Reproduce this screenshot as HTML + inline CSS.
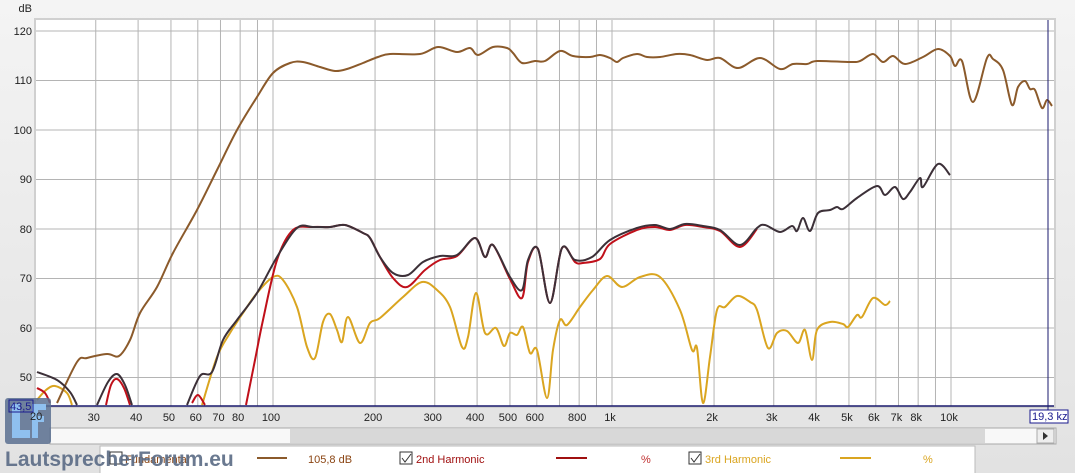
<!DOCTYPE html>
<html><head><meta charset="utf-8"><style>
body{margin:0;width:1075px;height:473px;overflow:hidden;background:#ececec;font-family:"Liberation Sans",sans-serif;}
</style></head><body>
<svg id="s" width="1075" height="473" xmlns="http://www.w3.org/2000/svg" style="position:absolute;left:0;top:0">
<defs><linearGradient id="bg" x1="0" y1="0" x2="0" y2="1"><stop offset="0" stop-color="#f4f4f4"/><stop offset="1" stop-color="#e2e2e2"/></linearGradient></defs>
<rect width="1075" height="473" fill="url(#bg)"/>
<rect x="34" y="18" width="1022" height="390" fill="#d0d0d0"/>
<rect x="36" y="20" width="1018" height="386" fill="#fff"/>
<g id="grid" stroke="#b4b4b4" stroke-width="1"></g>
<g font-size="11" fill="#222" text-anchor="end">
<text x="32" y="12">dB</text>
<text x="32" y="35">120</text><text x="32" y="84">110</text><text x="32" y="134">100</text>
<text x="32" y="183">90</text><text x="32" y="233">80</text><text x="32" y="282">70</text>
<text x="32" y="332">60</text><text x="32" y="381">50</text>
</g>
<g id="xl" font-size="11" fill="#222" text-anchor="middle"></g>
<g id="curves" fill="none" stroke-width="2" stroke-linejoin="round"></g>
<line x1="36" y1="406" x2="1054" y2="406" stroke="#1a1a6e" stroke-width="1.5"/>
<line x1="1048" y1="20" x2="1048" y2="420" stroke="#1a1a6e" stroke-width="1"/>
<rect x="1030" y="410" width="38" height="13" fill="#fff" stroke="#1a1a8e"/>
<text x="1032" y="420" font-size="11" fill="#1a1a8e">19,3 kz</text>
<!-- scrollbar -->
<rect x="50" y="428" width="1006" height="16" fill="#f8f8f8" stroke="#a8a8a8"/>
<rect x="290" y="429" width="695" height="14" fill="#d8d8d8"/>
<rect x="1037" y="429" width="17" height="14" fill="#eee" stroke="#aaa"/>
<path d="M1043 432 l5 4 l-5 4z" fill="#333"/>
<!-- legend -->
<rect x="100" y="446" width="875" height="30" fill="#fff" stroke="#bbb"/>
<rect x="110" y="452" width="12" height="12" fill="#fff" stroke="#333"/>
<text x="125" y="463" font-size="11" fill="#8b4513">Fundamental</text>
<line x1="257" y1="458" x2="287" y2="458" stroke="#8b5a2b" stroke-width="2"/>
<text x="308" y="463" font-size="11" fill="#8b4513">105,8 dB</text>
<rect x="400" y="452" width="12" height="12" fill="#fff" stroke="#333"/>
<path d="M402 458 l3 4 l6 -8" stroke="#333" fill="none"/>
<text x="416" y="463" font-size="11" fill="#a01010">2nd Harmonic</text>
<line x1="556" y1="458" x2="587" y2="458" stroke="#a01010" stroke-width="2"/>
<text x="641" y="463" font-size="11" fill="#c03030">%</text>
<rect x="689" y="452" width="12" height="12" fill="#fff" stroke="#333"/>
<path d="M691 458 l3 4 l6 -8" stroke="#333" fill="none"/>
<text x="705" y="463" font-size="11" fill="#daa520">3rd Harmonic</text>
<line x1="840" y1="458" x2="871" y2="458" stroke="#daa520" stroke-width="2"/>
<text x="923" y="463" font-size="11" fill="#daa520">%</text>
<!-- logo -->
<rect x="5" y="398" width="46" height="46" rx="3" fill="#5a7090" opacity="0.85"/>
<path d="M12 404 h8 v26 h10 v8 h-18z" fill="#8fc0ef"/>
<path d="M32 404 h14 v6 h-8 v6 h6 v6 h-6 v16 h-6z" fill="#8fc0ef"/>
<rect x="9" y="400" width="24" height="12" fill="none" stroke="#1a1a8e"/>
<text x="10" y="410" font-size="11" fill="#1a1a8e">43,5</text>
<text x="30" y="420" font-size="11" fill="#222">20</text>
<text x="5" y="466" font-size="21" font-weight="bold" fill="#5a6b85" opacity="0.9">LautsprecherForum.eu</text>
</svg>
<script>
var ns="http://www.w3.org/2000/svg";
function X(f){return 273+339*Math.log10(f/100);}
var g=document.getElementById('grid');
function ln(x1,y1,x2,y2){var l=document.createElementNS(ns,'line');l.setAttribute('x1',x1);l.setAttribute('y1',y1);l.setAttribute('x2',x2);l.setAttribute('y2',y2);g.appendChild(l);}
for(var d=50;d<=120;d+=10){var y=31+(120-d)*4.95;ln(36,y,1054,y);}
var fs=[30,40,50,60,70,80,90,100,200,300,400,500,600,700,800,900,1000,2000,3000,4000,5000,6000,7000,8000,9000,10000];
fs.forEach(function(f){var x=X(f);ln(x,20,x,406);});
var xl=document.getElementById('xl');
var labs=[[30,'30'],[40,'40'],[50,'50'],[60,'60'],[70,'70'],[80,'80'],[100,'100'],[200,'200'],[300,'300'],[400,'400'],[500,'500'],[600,'600'],[800,'800'],[1000,'1k'],[2000,'2k'],[3000,'3k'],[4000,'4k'],[5000,'5k'],[6000,'6k'],[7000,'7k'],[8000,'8k'],[10000,'10k']];
labs.forEach(function(a){var t=document.createElementNS(ns,'text');t.setAttribute('x',X(a[0])-2);t.setAttribute('y',421);t.textContent=a[1];xl.appendChild(t);});
function path(p){var d='M'+p[0][0]+' '+p[0][1];for(var i=0;i<p.length-1;i++){var p0=p[i-1]||p[i],p1=p[i],p2=p[i+1],p3=p[i+2]||p2;
d+=' C'+(p1[0]+(p2[0]-p0[0])/6)+' '+(p1[1]+(p2[1]-p0[1])/6)+' '+(p2[0]-(p3[0]-p1[0])/6)+' '+(p2[1]-(p3[1]-p1[1])/6)+' '+p2[0]+' '+p2[1];}return d;}
var C=document.getElementById('curves');
function add(pts,col){pts.forEach(function(seg){var e=document.createElementNS(ns,'path');e.setAttribute('d',path(seg));e.setAttribute('stroke',col);C.appendChild(e);});}
var brown=[[[57,403],[77,362],[87,358],[107,354],[119,356],[130,340],[140,313],[157,287],[173,253],[197,210],[217,170],[237,130],[257,97],[273,73],[290,63],[303,62],[320,67],[335,71],[347,69],[363,63],[378,57],[390,54],[420,54],[438,47],[457,52],[470,48],[478,55],[493,47],[507,48],[513,53],[522,63],[535,61],[545,61],[560,51],[573,56],[590,57],[600,55],[610,58],[617,62],[623,58],[637,54],[647,57],[660,57],[677,54],[690,55],[707,60],[720,58],[738,68],[760,58],[780,69],[793,64],[807,64],[817,61],[850,62],[860,61],[873,54],[883,62],[893,56],[905,64],[923,57],[938,49],[950,56],[955,66],[962,61],[973,102],[987,58],[993,59],[1003,70],[1012,105],[1018,87],[1025,81],[1030,89],[1035,90],[1042,108],[1047,100],[1052,106]]];
var dark=[[[37,372],[57,380],[70,392],[77,405]],[[97,405],[108,382],[117,374],[125,385],[132,405]],[[187,405],[200,376],[212,372],[223,340],[237,320],[257,293],[277,257],[297,228],[313,227],[330,227],[345,225],[363,233],[370,238],[380,257],[393,273],[408,275],[423,262],[440,256],[457,255],[475,238],[485,257],[493,245],[510,277],[522,290],[528,260],[538,249],[550,303],[562,248],[575,260],[592,257],[610,240],[637,228],[655,225],[670,229],[685,224],[703,226],[720,230],[740,245],[757,228],[765,225],[780,232],[792,226],[797,231],[803,218],[810,231],[818,213],[830,210],[837,207],[843,209],[857,198],[877,186],[885,195],[895,187],[903,199],[910,192],[920,178],[923,187],[938,164],[950,175]]];
var red=[[[37,388],[45,393],[50,403]],[[106,405],[111,385],[117,379],[124,388],[130,405]],[[192,403],[198,395],[205,405]],[[246,405],[255,360],[263,320],[277,260],[293,230],[313,227],[330,227],[345,225],[363,233],[370,238],[380,257],[393,278],[407,287],[425,270],[440,260],[457,256],[475,238],[485,257],[493,245],[510,279],[522,298],[528,262],[538,249],[550,303],[562,248],[575,262],[583,263],[600,259],[610,244],[637,230],[655,227],[670,230],[685,225],[703,227],[720,231],[740,247],[757,229]]];
var yel=[[[37,400],[46,390],[55,386],[67,393],[72,405]],[[202,405],[217,357],[230,333],[243,313],[257,293],[273,277],[283,280],[297,307],[307,347],[315,358],[323,322],[330,314],[337,330],[342,342],[348,317],[360,343],[370,323],[380,318],[403,297],[422,282],[437,290],[450,307],[462,347],[468,337],[476,293],[485,333],[496,328],[504,346],[510,333],[517,335],[523,327],[530,353],[537,350],[547,398],[553,350],[560,320],[567,325],[580,307],[593,290],[607,276],[622,287],[640,277],[660,277],[680,310],[692,350],[697,348],[703,403],[710,357],[717,310],[725,307],[737,296],[750,302],[757,310],[768,348],[777,333],[787,331],[798,343],[805,330],[812,360],[817,330],[830,322],[843,324],[848,327],[857,315],[862,317],[873,298],[885,305],[890,301]]];
add(yel,'#daa520');add(brown,'#8b5a2b');add(red,'#c0101a');add(dark,'#3c3038');
</script>
</body></html>
